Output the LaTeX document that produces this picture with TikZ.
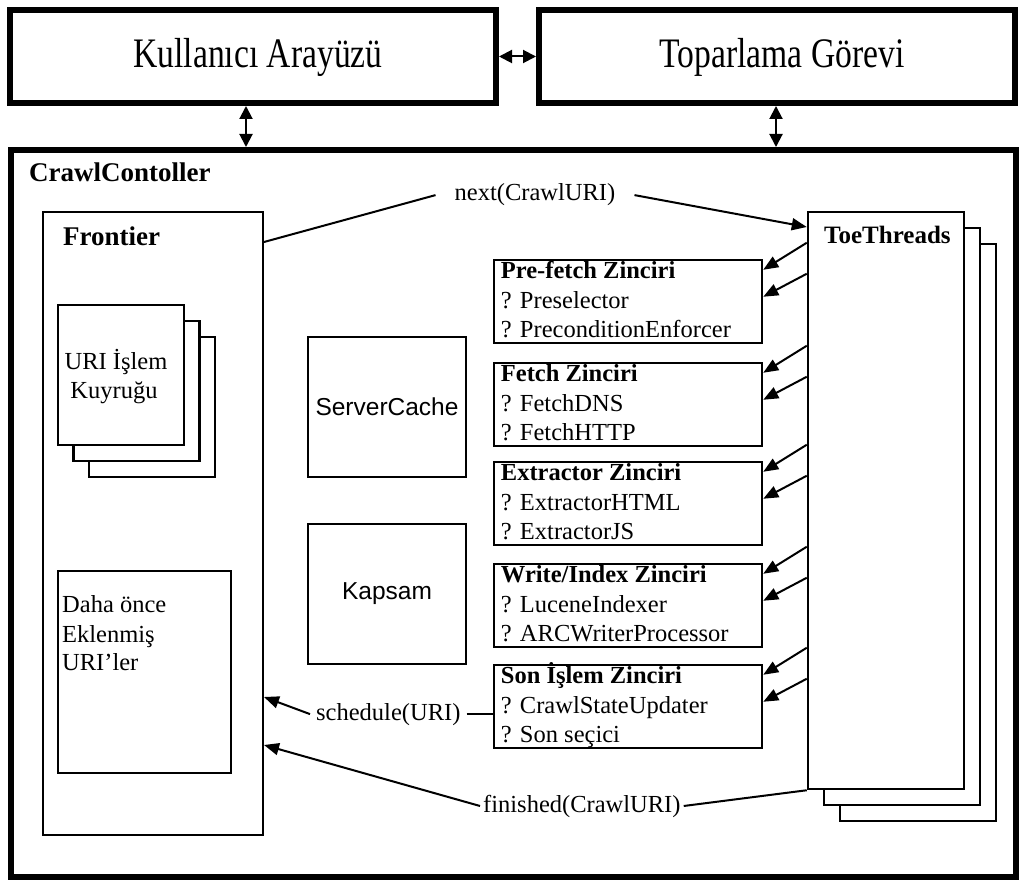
\documentclass[tikz,border=0pt]{standalone}
\usepackage{fontspec}
\setmainfont{Liberation Serif}
\newfontfamily\arialfont{Liberation Sans}
\newfontfamily\narrowserif{Liberation Serif}[FakeStretch=0.8]
\usetikzlibrary{arrows.meta,calc}

% one chain box: name, top edge, title, first item, second item
\newcommand\chainbox[5]{%
  \node[chainbx] (#1) at (628,#2+41.5) {};
  \node[itemtext, anchor=base west] (#1-t) at ($(#1.north west)+(8,20)$) {\bfseries #3};
  \node[itemtext, anchor=base west] (#1-a) at ($(#1.north west)+(8,50)$) {? #4};
  \node[itemtext, anchor=base west] (#1-b) at ($(#1.north west)+(8,79)$) {? #5};
  \coordinate (#1-s1) at ($(#1.north east)+(0,-16)$);
  \coordinate (#1-e1) at ($(#1.north east)+(0,11)$);
  \coordinate (#1-s2) at ($(#1.north east)+(0,15)$);
  \coordinate (#1-e2) at ($(#1.north east)+(0,38)$);
  \draw[arr] (tt.west |- #1-s1) -- (#1-e1);
  \draw[arr] (tt.west |- #1-s2) -- (#1-e2);
}

\begin{document}
\begin{tikzpicture}[x=1pt,y=-1pt,
  heavy/.style={draw,line width=6pt,inner sep=0pt},
  thinbox/.style={draw,line width=2pt,inner sep=0pt},
  chainbx/.style={draw,line width=2.5pt,inner sep=0pt,minimum width=268pt,minimum height=83pt},
  ttbox/.style={draw,fill=white,line width=2.5pt,inner sep=0pt,minimum width=156pt,minimum height=577pt},
  qbox/.style={draw,fill=white,line width=2.2pt,inner sep=0pt,minimum width=126pt,minimum height=140pt},
  bigtext/.style={inner sep=0pt,font=\narrowserif\fontsize{42}{48}\selectfont},
  itemtext/.style={inner sep=0pt,font=\fontsize{24.5}{29}\selectfont},
  boldlbl/.style={inner sep=0pt,font=\bfseries\fontsize{27}{32}\selectfont},
  msg/.style={inner ysep=1pt,font=\fontsize{24.5}{29}\selectfont},
  sanstext/.style={font=\arialfont\fontsize{24.5}{29}\selectfont},
  arr/.style={line width=2pt,-{Triangle[length=15pt,width=12pt]}},
  darr/.style={line width=2pt,{Triangle[length=13pt,width=13pt]}-{Triangle[length=13pt,width=13pt]}},
]
\useasboundingbox (0,0) rectangle (1022,882);

% top level components
\node[heavy, minimum width=486pt, minimum height=93pt] (ui) at (253,56.5) {};
\node[bigtext, anchor=base] (uitext) at (258,68) {Kullanıcı Arayüzü};
\node[heavy, minimum width=476pt, minimum height=93pt] (tg) at (777,56.5) {};
\node[bigtext, anchor=base] (tgtext) at (782,68) {Toparlama Görevi};
\node[heavy, minimum width=1005pt, minimum height=727pt] (cc) at (513.5,513.5) {};
\node[boldlbl, anchor=base west] (cclbl) at (29,182) {CrawlContoller};

\draw[darr] (ui.east) -- (tg.west);
\coordinate (uix) at (246,0);
\coordinate (tgx) at (776,0);
\draw[darr] (uix |- ui.south) -- (uix |- cc.north);
\draw[darr] (tgx |- tg.south) -- (tgx |- cc.north);

% Frontier
\node[thinbox, minimum width=220pt, minimum height=623pt] (frontier) at (153,523.5) {};
\node[boldlbl, anchor=base west] (frontierlbl) at (63,246) {Frontier};

\node[qbox] (q3) at (152,407) {};
\node[qbox] (q2) at (136.5,391) {};
\node[qbox] (q1) at (121,375) {};
\node[itemtext, anchor=base] (q1a) at (116,370) {URI İşlem};
\node[itemtext, anchor=base] (q1b) at (114,398) {Kuyruğu};

\node[thinbox, minimum width=173pt, minimum height=202pt] (seen) at (144.5,672) {};
\node[itemtext, anchor=base west] (seena) at (62,612) {Daha önce};
\node[itemtext, anchor=base west] (seenb) at (62,642) {Eklenmiş};
\node[itemtext, anchor=base west] (seenc) at (62,670) {URI’ler};

% ServerCache and scope
\node[thinbox, minimum width=158pt, minimum height=140pt] (sc) at (387,407) {};
\node[sanstext] (sctext) at (sc.center) {ServerCache};
\node[thinbox, minimum width=158pt, minimum height=140pt] (scope) at (387,594) {};
\node[sanstext] (scopetext) at (scope.center) {Kapsam};

% ToeThreads stack
\node[ttbox] (tt3) at (918,532.5) {};
\node[ttbox] (tt2) at (902,516.5) {};
\node[ttbox] (tt) at (886,500.5) {};
\node[boldlbl, font=\bfseries\fontsize{25}{30}\selectfont, anchor=base west] (ttlbl) at (824,244) {ToeThreads};

% processor chains
\chainbox{pf}{260}{Pre-fetch Zinciri}{Preselector}{PreconditionEnforcer}
\chainbox{fe}{363}{Fetch Zinciri}{FetchDNS}{FetchHTTP}
\chainbox{ex}{462}{Extractor Zinciri}{ExtractorHTML}{ExtractorJS}
\chainbox{wi}{564}{Write/Index Zinciri}{LuceneIndexer}{ARCWriterProcessor}
\chainbox{po}{665}{Son İşlem Zinciri}{CrawlStateUpdater}{Son seçici}

% messages
\node[msg, inner xsep=19pt, anchor=base] (next) at (535,201) {next(CrawlURI)};
\coordinate (nexty) at (0,242);
\coordinate (nextin) at (0,227);
\draw[line width=2pt] (frontier.east |- nexty) -- (next.west);
\draw[arr] (next.east) -- (tt.west |- nextin);

\node[msg, inner xsep=6pt, anchor=base west] (sched) at (310,720) {schedule(URI)};
\coordinate (schy) at (0,697);
\draw[arr] (sched.west) -- (frontier.east |- schy);
\draw[line width=2pt] (sched.east) -- (po.west |- sched.east);

\node[msg, inner xsep=3pt, anchor=base west] (fin) at (480,812) {finished(CrawlURI)};
\coordinate (finy) at (0,745);
\draw[arr] (fin.west) -- (frontier.east |- finy);
\draw[line width=2pt] (fin.east) -- (tt.south west);
\end{tikzpicture}
\end{document}
